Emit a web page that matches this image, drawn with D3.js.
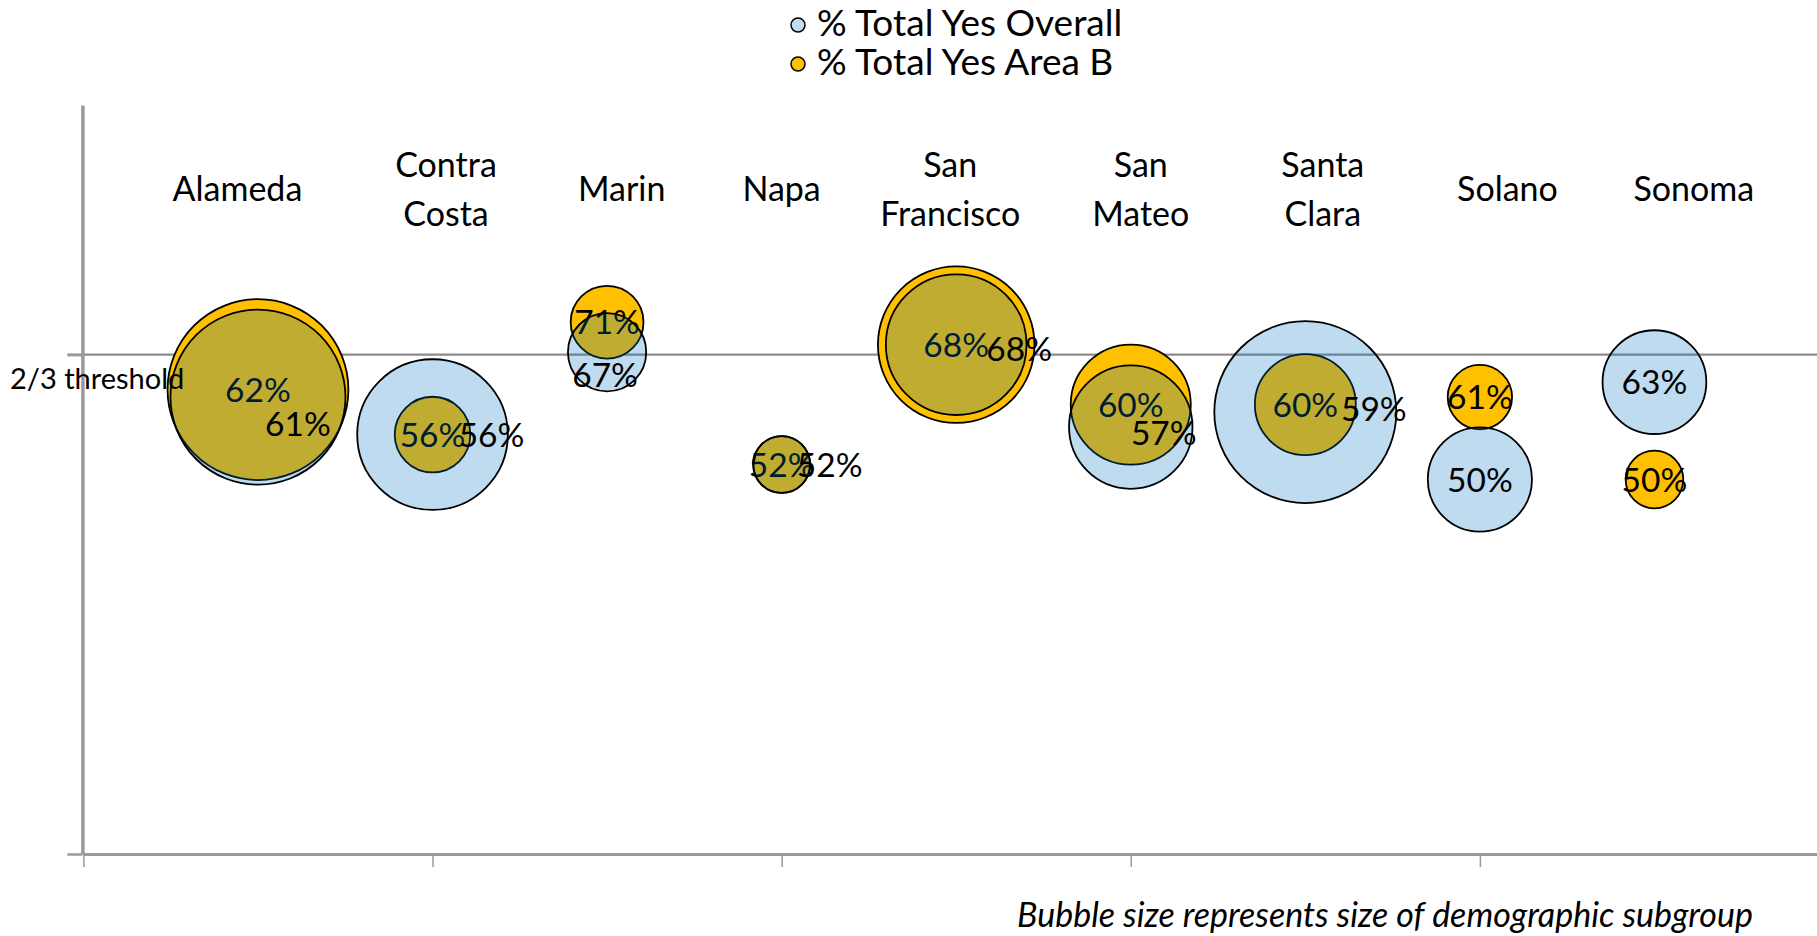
<!DOCTYPE html>
<html><head><meta charset="utf-8">
<script src="https://cdn.jsdelivr.net/npm/d3@7"></script>
<style>
body{margin:0;background:#fff;}
svg{display:block;font-family:Lato,"Noto Sans",sans-serif;}
</style>
</head><body>
<svg id="chart" width="1817" height="936"></svg>
<script>
// ---- data ----
const categories = ["Alameda","Contra Costa","Marin","Napa","San Francisco","San Mateo","Santa Clara","Solano","Sonoma"];
const xValues = [1,2,3,4,5,6,7,8,9];
const overallYes  = [61,56,67,52,68,57,59,50,63];
const overallSize = [370,274,74,39,239,184,400,131,130];
const areaBYes    = [62,56,71,52,68,60,60,61,50];
const areaBSize   = [395,69,64,39,296,174,123,50,40];
const seriesNames = ["% Total Yes Overall","% Total Yes Area B"];
const threshold = 200/3;
const thresholdLabel = "2/3 threshold";
const xTickValues = [0,2,4,6,8,10];
const yTickValues = [0, threshold];
const noteText = "Bubble size represents size of demographic subgroup";
const categoryLabelLevel = 88.8;

// ---- layout (label nudges, in px) ----
const catLabelDx = [-20.5,13.5,14.7,0,-6,10,17.5,27.6,39.4];
const overallLabelDx = [40,59,-2,48,63,33,68.5,0,0];
const overallLabelDy = [26.5,0,23,0,4,6,-3,0,0];

const W = 1817, H = 936;
const svg = d3.select("#chart");
const x = d3.scaleLinear().domain([0,10]).range([83.4,1829]);
const y = d3.scaleLinear().domain([0,100]).range([854,105]);
const r = d3.scaleSqrt().domain([0, d3.max([...overallSize,...areaBSize])]).range([0,91]);
const fmt = v => d3.format(".0f")(v) + "%";

const GOLD = "#FFC000", BLUE = "#0070C0", AXIS = "#9a9a9a";

// threshold gridline
svg.append("line")
  .attr("x1", x(0)-16).attr("x2", W)
  .attr("y1", y(threshold)).attr("y2", y(threshold))
  .attr("stroke", "#8c8c8c").attr("stroke-width", 2.2);

// y axis
const gy = svg.append("g").attr("transform", `translate(${x(0)-1},0)`)
  .call(d3.axisLeft(y).tickValues(yTickValues).tickSize(15).tickSizeOuter(0).tickFormat(""));
gy.select(".domain").attr("stroke", AXIS).attr("stroke-width", 3.5);
gy.selectAll(".tick line").attr("stroke", AXIS).attr("stroke-width", 2.5);

// x axis
const gx = svg.append("g").attr("transform", `translate(0,${y(0)})`)
  .call(d3.axisBottom(x).tickValues(xTickValues).tickSize(13).tickSizeOuter(0).tickFormat(""));
gx.select(".domain").attr("stroke", AXIS).attr("stroke-width", 3);
gx.selectAll(".tick line").attr("stroke", AXIS).attr("stroke-width", 1.5);

const areaB = categories.map((c,i)=>({c, x:xValues[i], v:areaBYes[i], s:areaBSize[i], i}));
const overall = categories.map((c,i)=>({c, x:xValues[i], v:overallYes[i], s:overallSize[i], i}));

// Area B bubbles
svg.append("g").selectAll("circle").data(areaB).join("circle")
  .attr("cx", d=>x(d.x)).attr("cy", d=>y(d.v)).attr("r", d=>r(d.s))
  .attr("fill", GOLD).attr("stroke", "#000").attr("stroke-width", 1.8);
svg.append("g").selectAll("text").data(areaB).join("text")
  .attr("x", d=>x(d.x)).attr("y", d=>y(d.v)).attr("dy", "0.36em")
  .attr("text-anchor", "middle").attr("font-size", 33.5).attr("fill", "#000")
  .text(d=>fmt(d.v));

// Overall bubbles (translucent, drawn on top)
svg.append("g").selectAll("circle").data(overall).join("circle")
  .attr("cx", d=>x(d.x)).attr("cy", d=>y(d.v)).attr("r", d=>r(d.s))
  .attr("fill", BLUE).attr("fill-opacity", 0.25).attr("stroke", "#000").attr("stroke-width", 1.8);
svg.append("g").selectAll("text").data(overall).join("text")
  .attr("x", d=>x(d.x)+overallLabelDx[d.i]).attr("y", d=>y(d.v)+overallLabelDy[d.i]).attr("dy", "0.36em")
  .attr("text-anchor", "middle").attr("font-size", 33.5).attr("fill", "#000")
  .text(d=>fmt(d.v));

// category labels
const catG = svg.append("g").attr("font-size", 34).attr("text-anchor", "middle");
categories.forEach((c,i)=>{
  const sp = c.indexOf(" ");
  const lines = sp > 0 ? [c.slice(0,sp), c.slice(sp+1)] : [c];
  const cx = x(xValues[i]) + catLabelDx[i];
  const cy = y(categoryLabelLevel);
  const lh = 49;
  const t = catG.append("text").attr("x", cx).attr("y", cy);
  lines.forEach((ln,k)=>{
    t.append("tspan").attr("x", cx)
     .attr("y", cy + (k - (lines.length-1)/2)*lh)
     .attr("dy", "0.36em").text(ln);
  });
});

// threshold label
svg.append("text").attr("x", 10).attr("y", 389).attr("font-size", 29).text(thresholdLabel);

// legend
const leg = svg.append("g");
const legFill = [{fill:BLUE, op:0.25},{fill:GOLD, op:1}];
seriesNames.forEach((n,k)=>{
  const by = 36 + k*39;
  leg.append("circle").attr("cx", 798).attr("cy", by-11).attr("r", 7)
    .attr("fill", legFill[k].fill).attr("fill-opacity", legFill[k].op)
    .attr("stroke", "#000").attr("stroke-width", 1.5);
  leg.append("text").attr("x", 817).attr("y", by).attr("font-size", 37).text(n);
});

// note
svg.append("text").attr("x", 1753).attr("y", 927).attr("text-anchor", "end")
  .attr("font-size", 34).attr("font-style", "italic").text(noteText);
</script>
</body></html>
